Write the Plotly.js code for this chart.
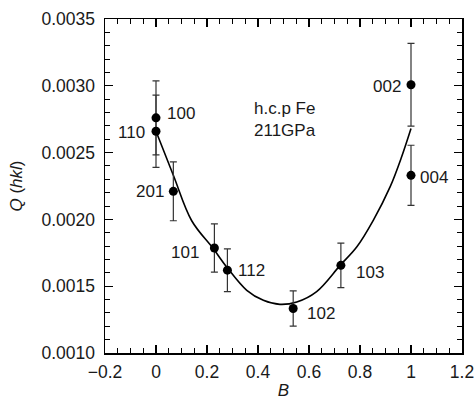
<!DOCTYPE html>
<html>
<head>
<meta charset="utf-8">
<script src="https://cdn.plot.ly/plotly-3.0.1.min.js"></script>
<style>html,body{margin:0;padding:0;background:#fff;}#chart{width:475px;height:400px;}</style>
</head>
<body>
<div id="chart"></div>
<script>
// Data points (reflections)
const labels = ['100', '110', '201', '101', '112', '102', '103', '002', '004'];
const B = [0, 0, 0.068, 0.229, 0.28, 0.538, 0.725, 1.0, 1.0];
const Q = [0.00276, 0.00266, 0.00221, 0.001786, 0.00162, 0.001333, 0.001656, 0.003008, 0.00233];
const Qerr = [0.000277, 0.00027, 0.00022, 0.00018, 0.00016, 0.000132, 0.000166, 0.00031, 0.000225];

// Fitted curve
const curveB = [0, 0.068, 0.14, 0.225, 0.277, 0.356, 0.421, 0.486, 0.552, 0.63, 0.722, 0.787, 0.852, 0.918, 0.963, 1.0];
const curveQ = [0.00266, 0.00233, 0.00199, 0.00178, 0.001644, 0.001469, 0.001394, 0.001364, 0.001382, 0.00146, 0.001656, 0.001793, 0.001993, 0.002243, 0.002467, 0.00268];

// Axis ticks
const xTicks = [-0.2, 0, 0.2, 0.4, 0.6, 0.8, 1, 1.2];
const xTickText = ['\u22120.2', '0', '0.2', '0.4', '0.6', '0.8', '1', '1.2'];
const yTicks = [0.0010, 0.0015, 0.0020, 0.0025, 0.0030, 0.0035];
const yTickText = ['0.0010', '0.0015', '0.0020', '0.0025', '0.0030', '0.0035'];

// Label placement (style only)
const lblAnchor = ['left', 'right', 'right', 'right', 'left', 'left', 'left', 'right', 'left'];
const lblDx = [9, -9, -7, -13, 9, 12, 13, -8, 7];
const lblDy = [4, -1, 0, -5, 0, -5, -7, -2, -2];

const FONT = 'Liberation Sans, Arial, Helvetica, sans-serif';
const TXT = '#1a1a1a';

const traces = [
  {
    x: curveB, y: curveQ, type: 'scatter', mode: 'lines',
    line: {color: '#000', width: 1.6, shape: 'spline', smoothing: 1},
    hoverinfo: 'skip', showlegend: false
  },
  {
    x: B, y: Q, type: 'scatter', mode: 'markers',
    marker: {color: '#000', size: 9},
    error_y: {type: 'data', array: Qerr, visible: true, color: '#333', thickness: 1.2, width: 3.5},
    showlegend: false
  }
];

const annotations = labels.map((t, i) => ({
  x: B[i], y: Q[i], xref: 'x', yref: 'y', text: t, showarrow: false,
  xanchor: lblAnchor[i], yanchor: 'middle', xshift: lblDx[i], yshift: lblDy[i],
  font: {family: FONT, size: 17, color: TXT}
}));
annotations.push({
  xref: 'paper', yref: 'paper', x: 0.413, y: 0.70, xanchor: 'left', yanchor: 'middle',
  text: 'h.c.p Fe<br>211GPa', align: 'left', showarrow: false,
  font: {family: FONT, size: 17, color: TXT}
});

const axisCommon = {
  showgrid: false, zeroline: false, showline: true, linecolor: '#000', linewidth: 1.5,
  mirror: 'ticks', ticks: 'inside', ticklen: 8, tickwidth: 1.2, tickcolor: '#000',
  tickfont: {family: FONT, size: 17.5, color: TXT}
};

const layout = {
  width: 475, height: 400,
  margin: {l: 105, r: 13, t: 19, b: 47},
  paper_bgcolor: '#fff', plot_bgcolor: '#fff',
  xaxis: Object.assign({}, axisCommon, {
    range: [-0.2, 1.2], tickmode: 'array', tickvals: xTicks, ticktext: xTickText,
    ticklabelstandoff: 2,
    minor: {dtick: 0.05, ticks: 'inside', ticklen: 5, tickwidth: 1, tickcolor: '#000', showgrid: false},
    title: {text: '<i>B</i>', font: {family: FONT, size: 17, color: TXT}, standoff: 8}
  }),
  yaxis: Object.assign({}, axisCommon, {
    range: [0.0010, 0.0035], tickmode: 'array', tickvals: yTicks, ticktext: yTickText,
    ticklabelstandoff: 5,
    minor: {dtick: 0.0001, ticks: 'inside', ticklen: 5, tickwidth: 1, tickcolor: '#000', showgrid: false},
    title: {text: '<i>Q</i> (<i>hkl</i>)', font: {family: FONT, size: 17, color: TXT}, standoff: 14}
  }),
  annotations: annotations
};

Plotly.newPlot('chart', traces, layout, {displayModeBar: false, staticPlot: true});
</script>
</body>
</html>
